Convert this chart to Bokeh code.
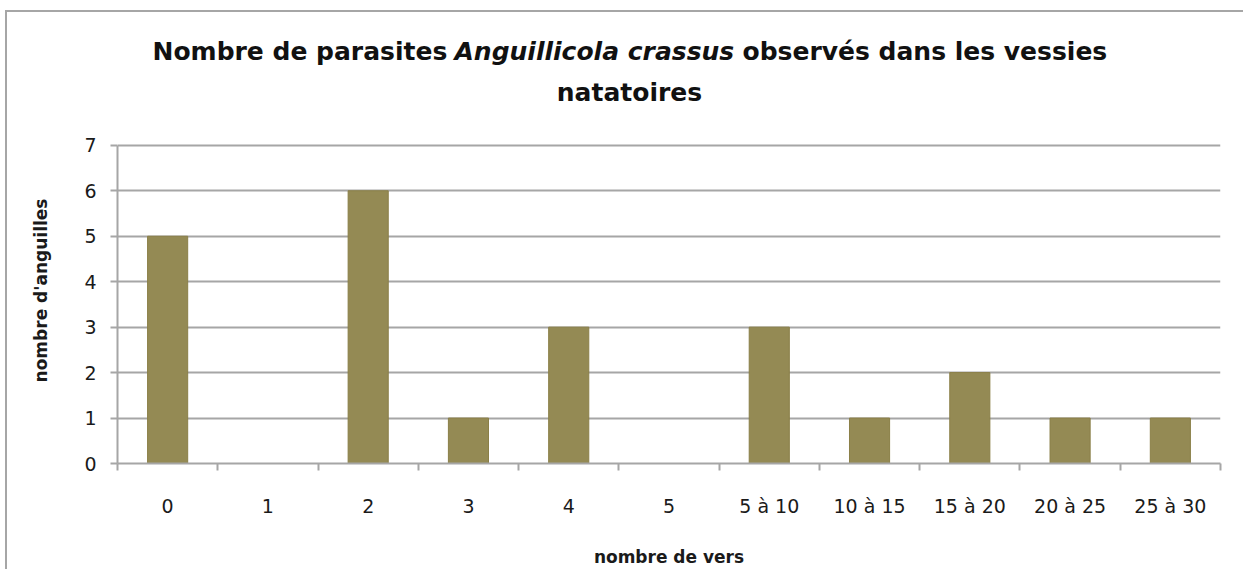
from bokeh.plotting import figure
from bokeh.layouts import column
from bokeh.models import (Range1d, LinearAxis, FixedTicker, ColumnDataSource, Label)
from bokeh.embed import file_html
from bokeh.resources import INLINE

categories = ["0", "1", "2", "3", "4", "5", "5 à 10", "10 à 15", "15 à 20", "20 à 25", "25 à 30"]
counts = [5, 0, 6, 1, 3, 0, 3, 1, 2, 1, 1]
y_ticks = [0, 1, 2, 3, 4, 5, 6, 7]
y_max = 7

FONT = "DejaVu Sans"
GRAY = "#a6a6a6"

n_cat = len(categories)
centers = [i + 0.5 for i in range(n_cat)]
bounds = list(range(n_cat + 1))
src = ColumnDataSource(dict(x=centers, n=counts, cat=categories))

# ---- title strip (mixed roman / italic title drawn as labels) ----
t = figure(width=1236, height=100, x_range=Range1d(0, 1), y_range=Range1d(0, 1),
           x_axis_location=None, y_axis_location=None, output_backend="svg",
           toolbar_location=None, min_border_left=0, min_border_right=0,
           min_border_top=0, min_border_bottom=0)
t.outline_line_color = None
t.grid.visible = False
t.background_fill_color = "white"
t.border_fill_color = "white"

# offsets in screen px from the (column-aligned) frame's lower-left corner
TS = "25px"
title_parts = [
    ("Nombre de parasites", 35, 61, "bold", "left"),
    ("Anguillicola crassus", 337, 61, "bold italic", "left"),
    ("observés dans les vessies", 625, 61, "bold", "left"),
    ("natatoires", 512, 20, "bold", "center"),
]
for txt, x, y, style, align in title_parts:
    t.add_layout(Label(x=x, y=y, x_units="screen", y_units="screen", text=txt,
                       text_font=FONT, text_font_size=TS, text_font_style=style,
                       text_align=align, text_baseline="alphabetic", text_color="#111111"))

# ---- chart ----
p = figure(width=1236, height=457, x_range=Range1d(0, n_cat),
           y_range=Range1d(0, 7.6125), x_axis_location=None, y_axis_location="left",
           output_backend="svg", toolbar_location=None,
           min_border_left=110, min_border_top=5, min_border_right=23, min_border_bottom=104)
p.outline_line_color = None
p.background_fill_color = "white"
p.border_fill_color = "white"

p.vbar(x="x", top="n", width=0.4, source=src, fill_color="#948A54", line_color="#8a7f47", line_width=1)

ya = p.yaxis[0]
ya.ticker = FixedTicker(ticks=y_ticks)
ya.bounds = (0, y_max)
ya.axis_line_color = GRAY
ya.axis_line_width = 2
ya.major_tick_line_color = GRAY
ya.major_tick_line_width = 2
ya.major_tick_out = 7
ya.major_tick_in = 0
ya.minor_tick_line_color = None
ya.major_label_text_font = FONT
ya.major_label_text_font_size = "19px"
ya.major_label_text_color = "#1a1a1a"
ya.major_label_standoff = 14
ya.axis_label = "nombre d'anguilles"
ya.axis_label_text_font = FONT
ya.axis_label_text_font_size = "17px"
ya.axis_label_text_font_style = "bold"
ya.axis_label_text_color = "#1a1a1a"
ya.axis_label_standoff = 30

p.xgrid.grid_line_color = None
p.ygrid.ticker = FixedTicker(ticks=y_ticks)
p.ygrid.grid_line_color = GRAY
p.ygrid.grid_line_width = 2

# x axis: labels at category centres, Excel-style ticks between categories (minor ticks)
xa = LinearAxis(ticker=FixedTicker(ticks=centers, minor_ticks=bounds),
                major_label_overrides={c: lab for c, lab in zip(centers, categories)})
xa.axis_line_color = GRAY
xa.axis_line_width = 2
xa.major_tick_line_color = None
xa.major_tick_out = 7
xa.major_tick_in = 0
xa.minor_tick_line_color = GRAY
xa.minor_tick_line_width = 2
xa.minor_tick_out = 7
xa.minor_tick_in = 0
xa.major_label_text_font = FONT
xa.major_label_text_font_size = "19px"
xa.major_label_text_color = "#1a1a1a"
xa.major_label_standoff = 24
xa.axis_label = "nombre de vers"
xa.axis_label_text_font = FONT
xa.axis_label_text_font_size = "17px"
xa.axis_label_text_font_style = "bold"
xa.axis_label_text_color = "#1a1a1a"
xa.axis_label_standoff = 27
p.add_layout(xa, "below")

layout = column(t, p, spacing=0)
layout.styles = {"margin-left": "5px", "margin-top": "10px",
                 "border-top": "2px solid #a6a6a6", "border-left": "2px solid #a6a6a6"}

open("out.html", "w").write(file_html(layout, INLINE))
